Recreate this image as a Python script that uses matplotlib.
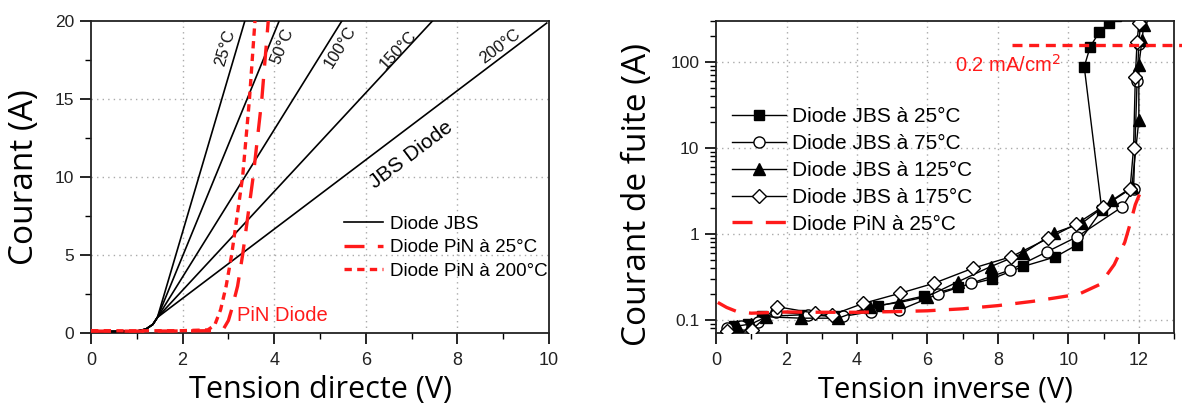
import matplotlib
matplotlib.use("Agg")
import matplotlib.pyplot as plt
import numpy as np

# ---------------- Left chart data: forward I-V ----------------
temps_jbs = ["25°C", "50°C", "100°C", "150°C", "200°C"]
v_jbs_25 = [0, 0.6, 1.0, 1.2, 1.35, 1.45, 3.36]
i_jbs_25 = [0.1, 0.1, 0.12, 0.25, 0.55, 1.0, 20]
v_jbs_50 = [0, 0.6, 1.0, 1.2, 1.35, 1.45, 4.11]
i_jbs_50 = [0.1, 0.1, 0.12, 0.25, 0.55, 1.0, 20]
v_jbs_100 = [0, 0.6, 1.0, 1.2, 1.35, 1.45, 5.48]
i_jbs_100 = [0.1, 0.1, 0.12, 0.25, 0.55, 1.0, 20]
v_jbs_150 = [0, 0.6, 1.0, 1.2, 1.35, 1.45, 7.46]
i_jbs_150 = [0.1, 0.1, 0.12, 0.25, 0.55, 1.0, 20]
v_jbs_200 = [0, 0.6, 1.0, 1.2, 1.35, 1.45, 9.95]
i_jbs_200 = [0.1, 0.1, 0.12, 0.25, 0.55, 1.0, 19.85]

v_pin_25 = [0, 1.0, 2.0, 2.7, 2.9, 3.0, 3.07, 3.2, 3.31, 3.54, 3.73, 3.87]
i_pin_25 = [0.12, 0.12, 0.13, 0.15, 0.3, 0.8, 1.5, 3.0, 5.0, 10, 15, 20]
v_pin_200 = [0, 1.0, 2.0, 2.55, 2.7, 2.83, 2.95, 3.07, 3.31, 3.46, 3.58]
i_pin_200 = [0.15, 0.14, 0.15, 0.2, 0.5, 1.5, 3.0, 5.0, 10, 15, 20]

# ---------------- Right chart data: reverse leakage ----------------
v_jbs25r = [0.5, 0.9, 1.3, 2.5, 3.5, 4.6, 5.9, 6.86, 7.82, 8.72, 9.62, 10.24, 10.95, 10.45, 10.62, 10.88, 11.14, 11.35]
i_jbs25r = [0.085, 0.09, 0.11, 0.115, 0.11, 0.145, 0.19, 0.24, 0.30, 0.42, 0.54, 0.745, 1.9, 88, 151, 223, 282, 340]
v_jbs75r = [0.3, 0.7, 1.2, 1.7, 2.6, 3.6, 4.4, 5.2, 6.3, 7.24, 8.34, 9.39, 10.25, 11.53, 11.85, 11.95, 12.0, 12.05]
i_jbs75r = [0.08, 0.085, 0.095, 0.125, 0.115, 0.11, 0.125, 0.13, 0.2, 0.267, 0.38, 0.62, 0.93, 2.07, 3.3, 60, 160, 300]
v_jbs125r = [0.6, 1.0, 1.43, 2.42, 3.47, 4.37, 5.2, 5.99, 6.87, 7.79, 8.71, 9.6, 10.4, 11.25, 11.8, 12.0, 12.0, 12.09, 12.14]
i_jbs125r = [0.085, 0.09, 0.109, 0.105, 0.105, 0.143, 0.16, 0.187, 0.279, 0.417, 0.597, 1.03, 1.35, 2.48, 3.5, 21, 92, 180, 270]
v_jbs175r = [0.3, 1.02, 1.73, 2.8, 3.3, 4.18, 5.21, 6.18, 7.29, 8.38, 9.43, 10.23, 10.98, 11.75, 11.85, 11.9, 11.95, 12.0]
i_jbs175r = [0.075, 0.077, 0.143, 0.12, 0.115, 0.156, 0.204, 0.267, 0.40, 0.545, 0.89, 1.31, 2.07, 3.3, 10, 67, 172, 282]
v_pinr = [0.05, 0.3, 0.6, 1.0, 2.0, 3.0, 4.0, 5.0, 6.0, 7.0, 8.0, 9.0, 9.6, 10.3, 10.9, 11.3, 11.6, 11.75, 11.9, 12.07]
i_pinr = [0.16, 0.14, 0.125, 0.12, 0.124, 0.123, 0.123, 0.125, 0.128, 0.135, 0.147, 0.165, 0.18, 0.2, 0.26, 0.44, 0.8, 1.3, 2.2, 3.25]
limit_level = 158
limit_v = [8.39, 13.3]

labels_right = ["Diode JBS à 25°C", "Diode JBS à 75°C", "Diode JBS à 125°C",
                "Diode JBS à 175°C", "Diode PiN à 25°C"]

TICKF = "Liberation Sans"
LABF = "Open Sans"

fig = plt.figure(figsize=(11.82, 4.09), dpi=100)
ax1 = fig.add_axes([0.0770, 0.1858, 0.3875, 0.7636])
ax2 = fig.add_axes([0.6058, 0.1858, 0.3875, 0.7636])

grid_kw = dict(color="#aaaaaa", linestyle=(0, (1, 3)), linewidth=1.0)

# ---------- Left ----------
jbs_v = [v_jbs_25, v_jbs_50, v_jbs_100, v_jbs_150, v_jbs_200]
jbs_i = [i_jbs_25, i_jbs_50, i_jbs_100, i_jbs_150, i_jbs_200]
for k, (vv, ii) in enumerate(zip(jbs_v, jbs_i)):
    ax1.plot(vv, ii, color="black", lw=1.2, label="Diode JBS" if k == 0 else None, zorder=3)
ax1.plot(v_pin_25, i_pin_25, color="#ff1a1a", lw=2.4, dashes=(6, 4), label="Diode PiN à 25°C", zorder=4)
ax1.plot(v_pin_200, i_pin_200, color="#ff1a1a", lw=2.4, dashes=(2.2, 1.6), label="Diode PiN à 200°C", zorder=4)

ax1.set_xlim(0, 10)
ax1.set_ylim(0, 20)
ax1.set_xticks([0, 2, 4, 6, 8, 10])
ax1.set_xticks([1, 3, 5, 7, 9], minor=True)
ax1.set_yticks([0, 5, 10, 15, 20])
ax1.set_yticks([2.5, 7.5, 12.5, 17.5], minor=True)
for g in [2, 4, 6, 8]:
    ax1.axvline(g, zorder=0, **grid_kw)
for g in [5, 10, 15]:
    ax1.axhline(g, zorder=0, **grid_kw)

# temperature labels
temp_pos = [(2.93, 18.25, 73.5), (4.17, 18.35, 67.6), (5.44, 18.35, 58), (6.71, 18.1, 47), (8.93, 18.35, 37)]
for t, (x, y, r) in zip(temps_jbs, temp_pos):
    ax1.text(x, y, t, rotation=r, ha="center", va="center", fontsize=12,
             family=TICKF, color="#111111", rotation_mode="anchor")
ax1.text(7.0, 11.4, "JBS Diode", rotation=37, ha="center", va="center", fontsize=15,
         family=TICKF, rotation_mode="anchor")
ax1.text(3.18, 1.15, "PiN Diode", ha="left", va="center", fontsize=14.5, family=TICKF, color="#ff1a1a")

leg1 = ax1.legend(loc="lower right", bbox_to_anchor=(1.0, 0.165), frameon=False,
                  prop={"family": TICKF, "size": 13.5}, handlelength=2.1,
                  handletextpad=0.35, labelspacing=0.33, borderaxespad=0.0, borderpad=0.1)

ax1.set_xlabel("Tension directe (V)", family=LABF, fontsize=22, labelpad=4)
ax1.set_ylabel("Courant (A)", family=LABF, fontsize=24, labelpad=10)

# ---------- Right ----------
ax2.set_yscale("log")
ax2.plot(v_jbs25r, i_jbs25r, color="black", lw=1.0, marker="s", ms=7, mfc="black", mec="black", label=labels_right[0], zorder=3)
ax2.plot(v_jbs75r, i_jbs75r, color="black", lw=1.0, marker="o", ms=8, mfc="white", mec="black", label=labels_right[1], zorder=3)
ax2.plot(v_jbs125r, i_jbs125r, color="black", lw=1.0, marker="^", ms=8, mfc="black", mec="black", label=labels_right[2], zorder=3)
ax2.plot(v_jbs175r, i_jbs175r, color="black", lw=1.0, marker="D", ms=7, mfc="white", mec="black", label=labels_right[3], zorder=3)
ax2.plot(v_pinr, i_pinr, color="#ff1a1a", lw=2.4, dashes=(6, 4), label=labels_right[4], zorder=4)
ax2.plot(limit_v, [limit_level, limit_level], color="#ff1a1a", lw=2.4, dashes=(3, 2), clip_on=False, zorder=4)
ax2.text(6.79, 92, "0.2 mA/cm$^2$", color="#ff1a1a", fontsize=14.5, family=TICKF, ha="left", va="center")

ax2.set_xlim(0, 13)
ax2.set_ylim(0.0706, 302)
ax2.set_xticks([0, 2, 4, 6, 8, 10, 12])
ax2.set_xticks([1, 3, 5, 7, 9, 11, 13], minor=True)
ax2.set_yticks([0.1, 1, 10, 100])
ax2.set_yticklabels(["0.1", "1", "10", "100"])
ax2.yaxis.set_minor_locator(matplotlib.ticker.LogLocator(base=10, subs=np.arange(2, 10)))
ax2.yaxis.set_minor_formatter(matplotlib.ticker.NullFormatter())
for g in [2, 4, 6, 8, 10, 12]:
    ax2.axvline(g, zorder=0, **grid_kw)
for g in [0.1, 1, 10, 100]:
    ax2.axhline(g, zorder=0, **grid_kw)

leg2 = ax2.legend(loc="upper left", bbox_to_anchor=(0.03, 0.73), frameon=False,
                  prop={"family": TICKF, "size": 15}, handlelength=2.6,
                  handletextpad=0.3, labelspacing=0.38, borderaxespad=0.0, borderpad=0.1)

ax2.set_xlabel("Tension inverse (V)", family=LABF, fontsize=21, labelpad=4)
ax2.set_ylabel("Courant de fuite (A)", family=LABF, fontsize=24, labelpad=6)
ax2.yaxis.set_label_coords(-0.135, 0.445)

for ax in (ax1, ax2):
    for s in ax.spines.values():
        s.set_linewidth(1.3)
        s.set_color("#222222")
    ax.tick_params(which="major", direction="out", length=8, width=1.2, top=False, right=False)
    ax.tick_params(which="minor", direction="out", length=4, width=1.0, top=False, right=False)
    ax.tick_params(axis="x", labelsize=13, pad=6)
    ax.tick_params(axis="y", labelsize=12.5, pad=4)
    for lab in ax.get_xticklabels() + ax.get_yticklabels():
        lab.set_family(TICKF)
        lab.set_color("#222222")

fig.savefig("out.png", dpi=100)
